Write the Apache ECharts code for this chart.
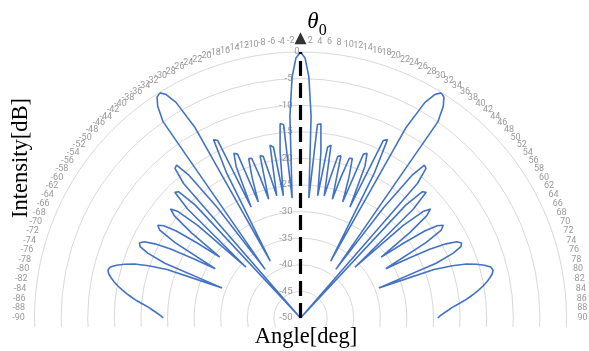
<!DOCTYPE html>
<html>
<head>
<meta charset="utf-8">
<script src="https://cdn.jsdelivr.net/npm/echarts@6/dist/echarts.min.js"></script>
<style>
  html, body { margin: 0; padding: 0; background: #ffffff; }
  #chart { width: 589px; height: 351px; }
</style>
</head>
<body>
<div id="chart"></div>
<script>
// Beam pattern sampled every degree, -90 .. 90
const angleDeg = [
  -90,-89,-88,-87,-86,-85,-84,-83,-82,-81,-80,-79,-78,-77,-76,-75,-74,-73,-72,-71,
  -70,-69,-68,-67,-66,-65,-64,-63,-62,-61,-60,-59,-58,-57,-56,-55,-54,-53,-52,-51,
  -50,-49,-48,-47,-46,-45,-44,-43,-42,-41,-40,-39,-38,-37,-36,-35,-34,-33,-32,-31,
  -30,-29,-28,-27,-26,-25,-24,-23,-22,-21,-20,-19,-18,-17,-16,-15,-14,-13,-12,-11,
  -10,-9,-8,-7,-6,-5,-4,-3,-2,-1,0,1,2,3,4,5,6,7,8,9,
  10,11,12,13,14,15,16,17,18,19,20,21,22,23,24,25,26,27,28,29,
  30,31,32,33,34,35,36,37,38,39,40,41,42,43,44,45,46,47,48,49,
  50,51,52,53,54,55,56,57,58,59,60,61,62,63,64,65,66,67,68,69,
  70,71,72,73,74,75,76,77,78,79,80,81,82,83,84,85,86,87,88,89,90
];

// Intensity [dB] for the negative half, -90 .. -1
const intensityNeg = [
  -24.2,-23.7,-23.0,-22.2,-21.4,-20.3,-19.1,-18.0,-17.0,-16.0,
  -15.1,-14.3,-13.6,-13.0,-12.7,-13.0,-14.0,-15.4,-17.2,-19.8,
  -23.3,-34.2,-22.5,-18.8,-17.0,-16.6,-17.3,-19.3,-22.5,-27.0,
  -31.5,-22.5,-18.8,-18.0,-19.0,-21.5,-26.0,-31.0,-24.0,-19.5,
  -18.1,-19.5,-24.0,-36.0,-20.5,-16.6,-17.0,-21.0,-50.0,-16.5,
  -13.3,-13.0,-16.0,-24.0,-38.7,-5.0,-2.0,-0.5,-0.1,-1.0,
  -3.2,-9.0,-37.9,-19.5,-12.7,-13.2,-27.2,-19.0,-16.6,-17.0,
  -26.8,-22.0,-18.5,-18.6,-22.5,-26.9,-18.6,-18.8,-23.0,-26.6,
  -17.0,-17.5,-26.8,-18.5,-13.3,-13.5,-27.4,-12.0,-4.7,-1.1
];
// Intensity [dB] at broadside
const intensityZero = [0.0];
// Intensity [dB] for the positive half, 1 .. 90
const intensityPos = [
  -1.1,-4.7,-12.0,-27.4,-13.5,-13.3,-18.5,-26.8,-17.5,-17.0,
  -26.6,-23.0,-18.8,-18.6,-26.9,-22.5,-18.6,-18.5,-22.0,-26.8,
  -17.0,-16.6,-19.0,-27.2,-13.2,-12.7,-19.5,-37.9,-9.0,-3.2,
  -1.0,-0.1,-0.5,-2.0,-5.0,-38.7,-24.0,-16.0,-13.0,-13.3,
  -16.5,-50.0,-21.0,-17.0,-16.6,-20.5,-36.0,-24.0,-19.5,-18.1,
  -19.5,-24.0,-31.0,-26.0,-21.5,-19.0,-18.0,-18.8,-22.5,-31.5,
  -27.0,-22.5,-19.3,-17.3,-16.6,-17.0,-18.8,-22.5,-34.2,-23.3,
  -19.8,-17.2,-15.4,-14.0,-13.0,-12.7,-13.0,-13.6,-14.3,-15.1,
  -16.0,-17.0,-18.0,-19.1,-20.3,-21.4,-22.2,-23.0,-23.7,-24.2
];
const intensityDb = intensityNeg.concat(intensityZero, intensityPos);

// Angle tick labels every 2 degrees (broadside carries the arrow instead)
const angleTicks = angleDeg.filter(a => a % 2 === 0 && a !== 0);

// Radial (dB) tick labels drawn along the broadside direction
const radialTicks = [0, -5, -10, -15, -20, -25, -30, -35, -40, -45, -50];

// Broadside marker: dashed line from the origin up past the rim, arrow head above it
const broadsideLine = [[-50, 0], [1.6, 0]];
const broadsideArrow = [[2.6, 0]];

const RIM_DB = 0;
// angle labels sit just outside the rim, a little further out towards the horizon
function angleLabelRadius(a) {
  return RIM_DB + 2.05 + 0.95 * Math.abs(Math.sin(a * Math.PI / 180));
}

const chart = echarts.init(document.getElementById('chart'), null, { renderer: 'canvas' });

const patternData = angleDeg.map((a, i) => [intensityDb[i], a]);

const radialLabelData = radialTicks.map(v => ({
  value: [v, 0],
  // the rim label hugs the axis a little closer
  label: v === RIM_DB ? { distance: -7 } : undefined
}));

chart.setOption({
  animation: false,
  backgroundColor: '#ffffff',
  polar: { center: [300.5, 318], radius: 266 },
  angleAxis: {
    type: 'value',
    min: -180,
    max: 180,
    interval: 2,
    startAngle: 270,
    clockwise: true,
    axisLine: { show: false },
    axisTick: { show: false },
    splitLine: { show: false },
    axisLabel: { show: false }
  },
  radiusAxis: {
    type: 'value',
    min: -50,
    max: 0,
    interval: 5,
    axisLine: { show: false },
    axisTick: { show: false },
    axisLabel: { show: false },
    splitLine: { show: true, lineStyle: { color: '#d9d9d9', width: 1 } }
  },
  series: [
    {
      type: 'line',
      coordinateSystem: 'polar',
      data: patternData,
      showSymbol: false,
      symbol: 'none',
      smooth: false,
      lineStyle: { color: '#4472c4', width: 1.6 },
      z: 3
    },
    {
      // radial dB labels, set off to the left of the broadside line
      type: 'scatter',
      coordinateSystem: 'polar',
      data: radialLabelData,
      symbol: 'rect',
      symbolSize: [16, 2],
      itemStyle: { color: 'rgba(255,255,255,0)' },
      label: {
        show: true,
        position: 'left',
        distance: 0,
        color: '#7f7f7f',
        fontSize: 9.5,
        fontFamily: 'Roboto',
        formatter: p => String(p.value[0])
      },
      labelLayout: { hideOverlap: false },
      z: 2
    },
    {
      // angle labels around the rim
      type: 'scatter',
      coordinateSystem: 'polar',
      data: angleTicks.map(a => [angleLabelRadius(a), a]),
      clip: false,
      symbolSize: 0,
      itemStyle: { color: 'rgba(0,0,0,0)' },
      label: {
        show: true,
        position: 'inside',
        align: 'center',
        verticalAlign: 'middle',
        color: '#7f7f7f',
        fontSize: 9,
        fontFamily: 'Roboto',
        formatter: p => String(p.value[1])
      },
      labelLayout: { hideOverlap: false },
      z: 2
    },
    {
      type: 'line',
      coordinateSystem: 'polar',
      data: broadsideLine,
      clip: false,
      showSymbol: false,
      symbol: 'none',
      lineStyle: { color: '#000000', width: 3.2, type: [15, 7] },
      z: 5
    },
    {
      type: 'scatter',
      coordinateSystem: 'polar',
      data: broadsideArrow,
      clip: false,
      symbol: 'triangle',
      symbolSize: [12, 12],
      itemStyle: { color: '#000000' },
      z: 6
    }
  ],
  graphic: [
    {
      type: 'rect',
      z: 50,
      shape: { x: 0, y: 327, width: 589, height: 24 },
      style: { fill: '#ffffff' }
    },
    {
      type: 'text',
      z: 60,
      x: 306,
      y: 337,
      style: {
        text: 'Angle[deg]',
        font: '22.5px "Liberation Serif"',
        fill: '#000000',
        align: 'center',
        verticalAlign: 'middle'
      }
    },
    {
      type: 'text',
      z: 60,
      x: 21,
      y: 158,
      rotation: Math.PI / 2,
      style: {
        text: 'Intensity[dB]',
        font: '22.5px "Liberation Serif"',
        fill: '#000000',
        align: 'center',
        verticalAlign: 'middle'
      }
    },
    {
      type: 'text',
      z: 60,
      x: 317,
      y: 22,
      style: {
        text: '{t|θ}{s|0}',
        align: 'center',
        verticalAlign: 'middle',
        rich: {
          t: { font: 'italic 23px "Liberation Serif"', fill: '#000000', verticalAlign: 'bottom' },
          s: { font: '16px "Liberation Serif"', fill: '#000000', verticalAlign: 'bottom', padding: [0, 0, -5, 0] }
        }
      }
    }
  ]
});
</script>
</body>
</html>
